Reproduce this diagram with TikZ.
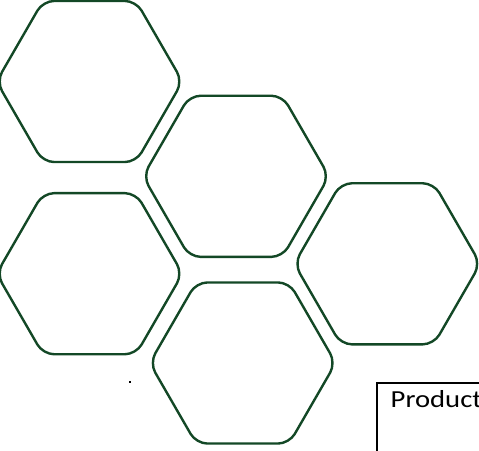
\documentclass[tikz,border=0pt]{standalone}
\usepackage{fontspec}
\setmainfont{Carlito}
\usetikzlibrary{shapes.geometric}
\definecolor{hexgreen}{RGB}{19,72,38}
\begin{document}
\begin{tikzpicture}[x=1pt,y=-1pt,
  hexa/.style={draw=hexgreen, line width=2.4pt, regular polygon, regular polygon sides=6,
    minimum size=186pt, inner sep=0pt, outer sep=0pt, rounded corners=11pt},
  prodbox/.style={draw=black, line width=1.8pt, inner sep=0pt, anchor=north west,
    minimum width=160pt, minimum height=110pt},
  prodtext/.style={anchor=base west, inner sep=0pt, font=\fontsize{24.5}{29}\selectfont}]
\useasboundingbox (0,0) rectangle (479,450);
\node[hexa] (h1) at (89.5,81.5) {};
\node[hexa] (h2) at (236,176.3) {};
\node[hexa] (h3) at (387.3,263.8) {};
\node[hexa] (h4) at (89.5,273.7) {};
\node[hexa] (h5) at (242.7,363) {};
\node[prodbox] (prod) at (375.7,382) {};
\node[prodtext] (prodlabel) at (390.5,407) {\scalebox{1.17}[1]{Product}};
\fill (129.4,381.2) rectangle (131,382.8);
\end{tikzpicture}
\end{document}
